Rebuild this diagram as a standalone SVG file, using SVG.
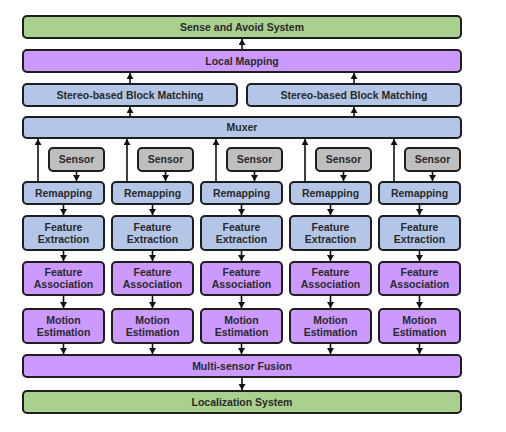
<svg xmlns="http://www.w3.org/2000/svg" width="506" height="432" viewBox="0 0 506 432">
<defs>
<style>
.b{stroke:#1e1e1e;stroke-width:2}
.g{fill:#a9d08e}.p{fill:#cc99ff}.bl{fill:#b4c6e7}.gr{fill:#bfbfbf}
text{font-family:"Liberation Sans",Arial,sans-serif;font-size:10.5px;font-weight:bold;fill:#2a2a2a;text-anchor:middle}
.c line{stroke:#111;stroke-width:1.6;marker-end:url(#ah)}
</style>
<marker id="ah" markerUnits="userSpaceOnUse" markerWidth="7" markerHeight="7" refX="6" refY="3.5" orient="auto">
<path d="M0,0 L6,3.5 L0,7 z" fill="#111"/>
</marker>
</defs>
<rect width="506" height="432" fill="#fff"/>
<g id="sense"><rect class="b g" x="23" y="16" width="438" height="22" rx="4"/><text x="242" y="30.5">Sense and Avoid System</text></g>
<g id="localmap"><rect class="b p" x="23" y="50" width="438" height="22" rx="4"/><text x="242" y="64.5">Local Mapping</text></g>
<g id="stereo1"><rect class="b bl" x="23" y="84" width="214" height="22" rx="4"/><text x="130" y="98.5">Stereo-based Block Matching</text></g>
<g id="stereo2"><rect class="b bl" x="247" y="84" width="214" height="22" rx="4"/><text x="354" y="98.5">Stereo-based Block Matching</text></g>
<g id="muxer"><rect class="b bl" x="23" y="117" width="438" height="21" rx="4"/><text x="242" y="131">Muxer</text></g>
<g id="fusion"><rect class="b p" x="23" y="355" width="438" height="22" rx="4"/><text x="242" y="369.5">Multi-sensor Fusion</text></g>
<g id="localization"><rect class="b g" x="23" y="391" width="438" height="22" rx="4"/><text x="242" y="405.5">Localization System</text></g>

<g id="col1">
<g id="sensor1"><rect class="b gr" x="49" y="148" width="55" height="23" rx="4"/><text x="76.5" y="163">Sensor</text></g>
<g id="remap1"><rect class="b bl" x="23" y="182" width="81" height="22" rx="4"/><text x="63.5" y="196.5">Remapping</text></g>
<g id="fe1"><rect class="b bl" x="23" y="216" width="81" height="34" rx="4"/><text x="63.5" y="230.5">Feature</text><text x="63.5" y="242.5">Extraction</text></g>
<g id="fa1"><rect class="b p" x="23" y="262" width="81" height="33" rx="4"/><text x="63.5" y="276">Feature</text><text x="63.5" y="288">Association</text></g>
<g id="me1"><rect class="b p" x="23" y="309" width="81" height="34" rx="4"/><text x="63.5" y="323.5">Motion</text><text x="63.5" y="335.5">Estimation</text></g>
</g>
<g id="col2">
<g id="sensor2"><rect class="b gr" x="138" y="148" width="55" height="23" rx="4"/><text x="165.5" y="163">Sensor</text></g>
<g id="remap2"><rect class="b bl" x="112" y="182" width="81" height="22" rx="4"/><text x="152.5" y="196.5">Remapping</text></g>
<g id="fe2"><rect class="b bl" x="112" y="216" width="81" height="34" rx="4"/><text x="152.5" y="230.5">Feature</text><text x="152.5" y="242.5">Extraction</text></g>
<g id="fa2"><rect class="b p" x="112" y="262" width="81" height="33" rx="4"/><text x="152.5" y="276">Feature</text><text x="152.5" y="288">Association</text></g>
<g id="me2"><rect class="b p" x="112" y="309" width="81" height="34" rx="4"/><text x="152.5" y="323.5">Motion</text><text x="152.5" y="335.5">Estimation</text></g>
</g>
<g id="col3">
<g id="sensor3"><rect class="b gr" x="227" y="148" width="55" height="23" rx="4"/><text x="254.5" y="163">Sensor</text></g>
<g id="remap3"><rect class="b bl" x="201" y="182" width="81" height="22" rx="4"/><text x="241.5" y="196.5">Remapping</text></g>
<g id="fe3"><rect class="b bl" x="201" y="216" width="81" height="34" rx="4"/><text x="241.5" y="230.5">Feature</text><text x="241.5" y="242.5">Extraction</text></g>
<g id="fa3"><rect class="b p" x="201" y="262" width="81" height="33" rx="4"/><text x="241.5" y="276">Feature</text><text x="241.5" y="288">Association</text></g>
<g id="me3"><rect class="b p" x="201" y="309" width="81" height="34" rx="4"/><text x="241.5" y="323.5">Motion</text><text x="241.5" y="335.5">Estimation</text></g>
</g>
<g id="col4">
<g id="sensor4"><rect class="b gr" x="316" y="148" width="55" height="23" rx="4"/><text x="343.5" y="163">Sensor</text></g>
<g id="remap4"><rect class="b bl" x="290" y="182" width="81" height="22" rx="4"/><text x="330.5" y="196.5">Remapping</text></g>
<g id="fe4"><rect class="b bl" x="290" y="216" width="81" height="34" rx="4"/><text x="330.5" y="230.5">Feature</text><text x="330.5" y="242.5">Extraction</text></g>
<g id="fa4"><rect class="b p" x="290" y="262" width="81" height="33" rx="4"/><text x="330.5" y="276">Feature</text><text x="330.5" y="288">Association</text></g>
<g id="me4"><rect class="b p" x="290" y="309" width="81" height="34" rx="4"/><text x="330.5" y="323.5">Motion</text><text x="330.5" y="335.5">Estimation</text></g>
</g>
<g id="col5">
<g id="sensor5"><rect class="b gr" x="405" y="148" width="55" height="23" rx="4"/><text x="432.5" y="163">Sensor</text></g>
<g id="remap5"><rect class="b bl" x="379" y="182" width="81" height="22" rx="4"/><text x="419.5" y="196.5">Remapping</text></g>
<g id="fe5"><rect class="b bl" x="379" y="216" width="81" height="34" rx="4"/><text x="419.5" y="230.5">Feature</text><text x="419.5" y="242.5">Extraction</text></g>
<g id="fa5"><rect class="b p" x="379" y="262" width="81" height="33" rx="4"/><text x="419.5" y="276">Feature</text><text x="419.5" y="288">Association</text></g>
<g id="me5"><rect class="b p" x="379" y="309" width="81" height="34" rx="4"/><text x="419.5" y="323.5">Motion</text><text x="419.5" y="335.5">Estimation</text></g>
</g>

<g id="connectors" class="c">
<line x1="242" y1="49" x2="242" y2="39"/>
<line x1="130" y1="83" x2="130" y2="73"/>
<line x1="354" y1="83" x2="354" y2="73"/>
<line x1="130" y1="116" x2="130" y2="107"/>
<line x1="354" y1="116" x2="354" y2="107"/>
<line x1="242" y1="378" x2="242" y2="390"/>
<line x1="38" y1="181" x2="38" y2="139"/>
<line x1="127" y1="181" x2="127" y2="139"/>
<line x1="216" y1="181" x2="216" y2="139"/>
<line x1="305" y1="181" x2="305" y2="139"/>
<line x1="394" y1="181" x2="394" y2="139"/>
<line x1="76.5" y1="172" x2="76.5" y2="181"/>
<line x1="165.5" y1="172" x2="165.5" y2="181"/>
<line x1="254.5" y1="172" x2="254.5" y2="181"/>
<line x1="343.5" y1="172" x2="343.5" y2="181"/>
<line x1="432.5" y1="172" x2="432.5" y2="181"/>
<line x1="63.5" y1="205" x2="63.5" y2="215"/>
<line x1="152.5" y1="205" x2="152.5" y2="215"/>
<line x1="241.5" y1="205" x2="241.5" y2="215"/>
<line x1="330.5" y1="205" x2="330.5" y2="215"/>
<line x1="419.5" y1="205" x2="419.5" y2="215"/>
<line x1="63.5" y1="251" x2="63.5" y2="261"/>
<line x1="152.5" y1="251" x2="152.5" y2="261"/>
<line x1="241.5" y1="251" x2="241.5" y2="261"/>
<line x1="330.5" y1="251" x2="330.5" y2="261"/>
<line x1="419.5" y1="251" x2="419.5" y2="261"/>
<line x1="63.5" y1="296" x2="63.5" y2="308"/>
<line x1="152.5" y1="296" x2="152.5" y2="308"/>
<line x1="241.5" y1="296" x2="241.5" y2="308"/>
<line x1="330.5" y1="296" x2="330.5" y2="308"/>
<line x1="419.5" y1="296" x2="419.5" y2="308"/>
<line x1="63.5" y1="344" x2="63.5" y2="354"/>
<line x1="152.5" y1="344" x2="152.5" y2="354"/>
<line x1="241.5" y1="344" x2="241.5" y2="354"/>
<line x1="330.5" y1="344" x2="330.5" y2="354"/>
<line x1="419.5" y1="344" x2="419.5" y2="354"/>
</g>
</svg>
